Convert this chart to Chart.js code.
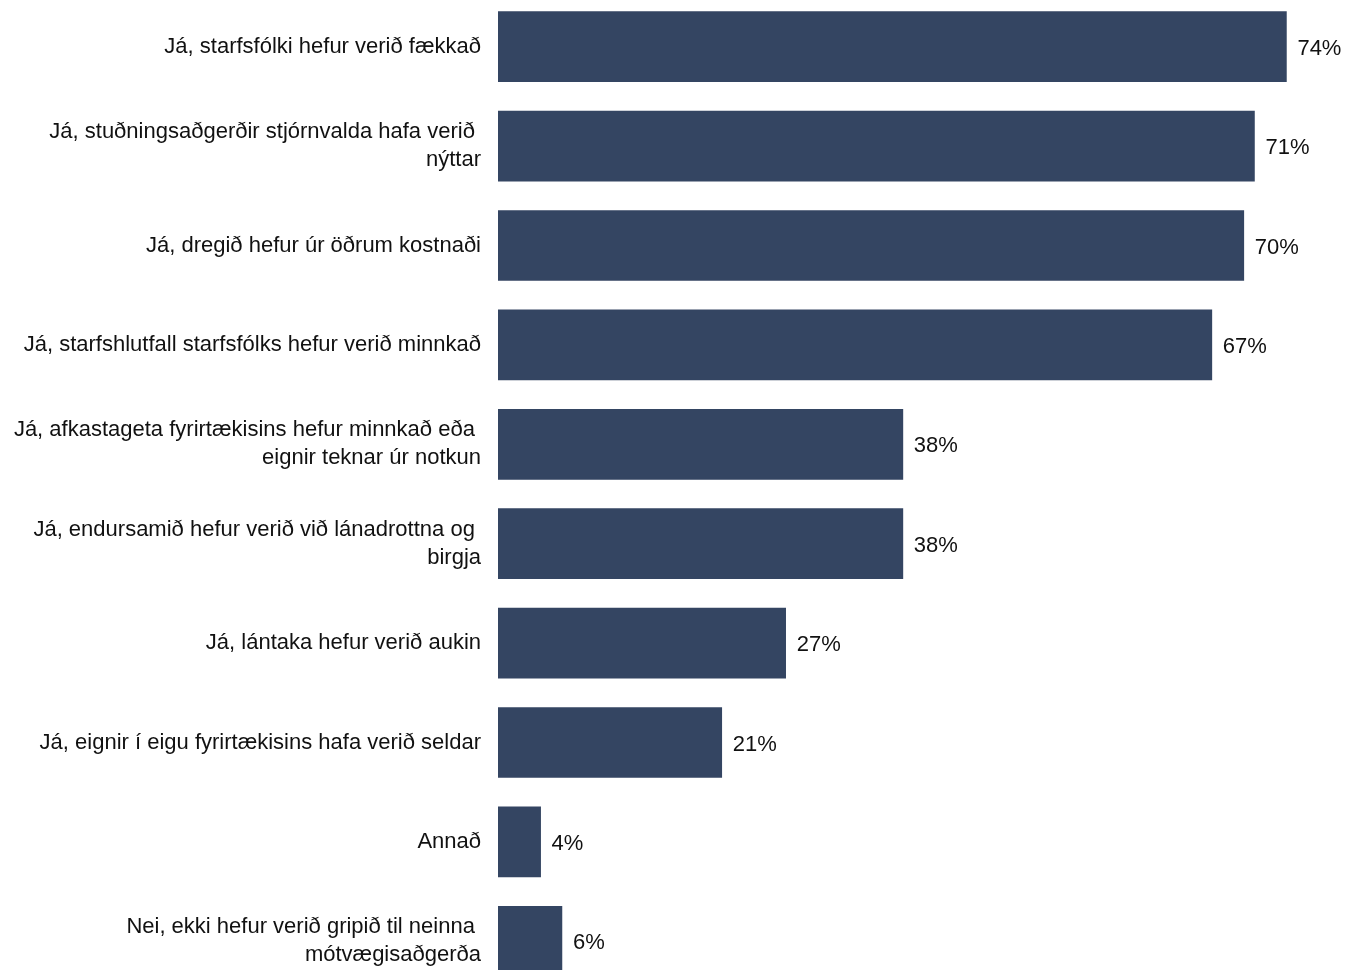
<!DOCTYPE html>
<html>
<head>
<meta charset="utf-8">
<script src="https://cdn.jsdelivr.net/npm/chart.js@4/dist/chart.umd.min.js"></script>
<style>
  html, body { margin: 0; padding: 0; background: #ffffff; overflow: hidden; }
  #wrap { position: absolute; left: 0; top: -3px; width: 1345px; height: 994px; }
</style>
</head>
<body>
<div id="wrap"><canvas id="chart"></canvas></div>
<script>
// svör (hlutfall fyrirtækja)
const categories = [
    ['Já, starfsfólki hefur verið fækkað'],
    ['Já, stuðningsaðgerðir stjórnvalda hafa verið ', 'nýttar'],
    ['Já, dregið hefur úr öðrum kostnaði'],
    ['Já, starfshlutfall starfsfólks hefur verið minnkað'],
    ['Já, afkastageta fyrirtækisins hefur minnkað eða ', 'eignir teknar úr notkun'],
    ['Já, endursamið hefur verið við lánadrottna og ', 'birgja'],
    ['Já, lántaka hefur verið aukin'],
    ['Já, eignir í eigu fyrirtækisins hafa verið seldar'],
    ['Annað'],
    ['Nei, ekki hefur verið gripið til neinna ', 'mótvægisaðgerða']
];
const values = [74, 71, 70, 67, 38, 38, 27, 21, 4, 6];

const BAR_COLOR = '#344562';
const TEXT_COLOR = '#111111';
const FONT = "'Liberation Sans', Arial, sans-serif";

// prósentutölur hægra megin við súlurnar
const valueLabels = {
    id: 'valueLabels',
    afterDatasetsDraw: (chart) => {
        const ctx = chart.ctx;
        ctx.save();
        ctx.fillStyle = TEXT_COLOR;
        ctx.font = '22px ' + FONT;
        ctx.textAlign = 'left';
        ctx.textBaseline = 'middle';
        const meta = chart.getDatasetMeta(0);
        meta.data.forEach((bar, i) => {
            ctx.fillText(values[i] + '%', bar.x + 11, bar.y + 2);
        });
        ctx.restore();
    }
};

new Chart(document.getElementById('chart').getContext('2d'), {
    type: 'bar',
    data: {
        labels: categories,
        datasets: [{
            data: values,
            backgroundColor: BAR_COLOR,
            borderWidth: 0,
            barThickness: 70
        }]
    },
    options: {
        indexAxis: 'y',
        responsive: true,
        maintainAspectRatio: false,
        animation: false,
        layout: { padding: 0 },
        plugins: {
            legend: { display: false },
            tooltip: { enabled: false }
        },
        scales: {
            x: {
                display: false,
                min: 0,
                max: 79.5
            },
            y: {
                grid: { display: false, drawTicks: false },
                border: { display: false },
                ticks: {
                    color: TEXT_COLOR,
                    font: { family: FONT, size: 22, lineHeight: 1.27 },
                    padding: 17
                },
                afterFit: (scale) => {
                    scale.width = 498;
                    scale.paddingTop = 0;
                    scale.paddingBottom = 0;
                }
            }
        }
    },
    plugins: [valueLabels]
});
</script>
</body>
</html>
